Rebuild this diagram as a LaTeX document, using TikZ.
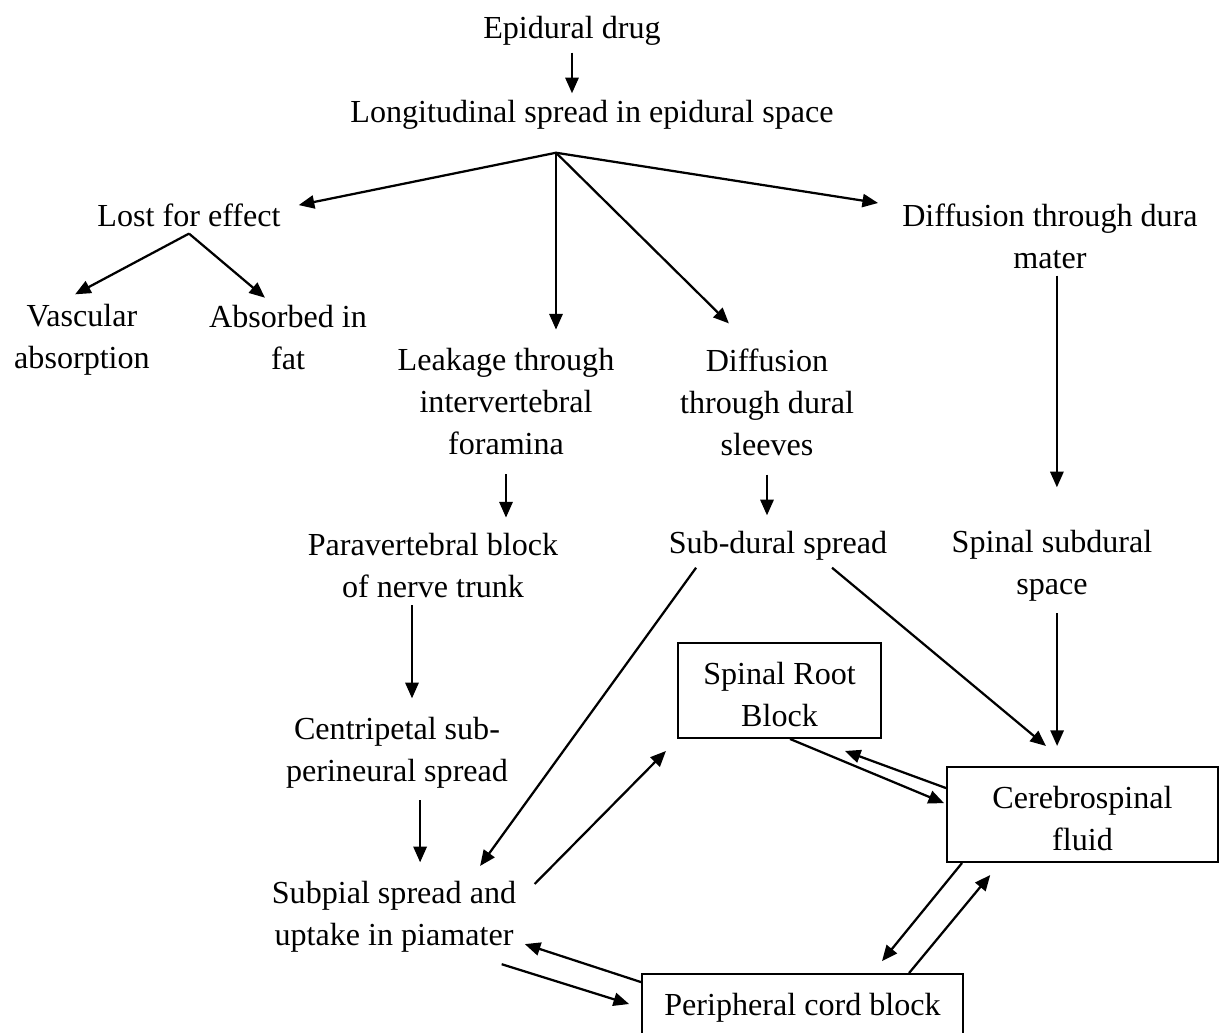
\documentclass[tikz,border=0pt]{standalone}
\usepackage{fontspec}
\setmainfont{Liberation Serif}
\usepackage{tikz}
\usetikzlibrary{arrows.meta}
\tikzstyle{es} = [-{Triangle[length=5.2pt,width=4.4pt]}]
\tikzstyle{txt} = [align=center,inner sep=2pt]
\tikzstyle{blk} = [draw,align=center,line width=0.6pt,inner sep=0pt]
\newcommand{\boxstrut}{\rule{0pt}{9.8pt}}

\begin{document}
\begin{tikzpicture}[x=0.3333pt,y=-0.3333pt,line width=0.75pt,font=\fontsize{10.7}{14}\selectfont]
			\useasboundingbox (0,0) rectangle (1224,1032);
			\clip (0,0) rectangle (1224,1032);
			\node[txt] (epi) at (572,31) {Epidural drug};
			\node[txt] (lon) at (592,115) {Longitudinal spread in epidural space};
			\node[txt] (lost) at (189,215) {Lost for effect};
			\node[txt] (dura) at (1050,236) {Diffusion through dura\\mater};
			\node[txt] (vasc) at (82,340) {Vascular\\absorption};
			\node[txt] (abs) at (288,338) {Absorbed in\\fat};
			\node[txt] (leak) at (506,402) {Leakage through\\intervertebral\\foramina};
			\node[txt] (diff) at (767,402) {Diffusion\\through dural\\sleeves};
			\node[txt] (para) at (433,566) {Paravertebral block\\of nerve trunk};
			\node[txt] (subd) at (778,546) {Sub-dural spread};
			\node[txt] (spsub) at (1052,566) {Spinal subdural\\space};
			\node[txt] (cent) at (397,753) {Centripetal sub-\\perineural spread};
			\node[txt] (subp) at (394,917) {Subpial spread and\\uptake in piamater};
			\node[blk,minimum width=67.7pt,minimum height=31.7pt] (root) at (779.5,690.5) {\boxstrut Spinal Root\\Block};
			\node[blk,minimum width=90.3pt,minimum height=31.7pt] (csf) at (1082.5,814.5) {\boxstrut Cerebrospinal\\fluid};
			\node[blk,minimum width=107pt,minimum height=20pt] (periph) at (802.5,1004) {\boxstrut Peripheral cord block};
			\draw[es] (epi.south) -- (epi.south |- lon.north);
			\path (lon.south) ++(-36,16) coordinate (fan);
			\draw[es] (fan) -- ([xshift=3.7pt,yshift=3.3pt]lost.east);
			\draw[es] (fan) -- ([xshift=-5.7pt,yshift=11pt]dura.west);
			\draw[es,shorten >=4pt] (fan) -- (fan |- leak.north);
			\draw[es] (fan) -- ([xshift=-12.7pt,yshift=6pt]diff.north);
			\draw[es] (lost.south) -- ([xshift=-2.3pt,yshift=1pt]vasc.north);
			\draw[es] (lost.south) -- ([xshift=-7.7pt,yshift=0.3pt]abs.north);
			\draw[es,shorten <=4pt,shorten >=3pt] (leak.south) -- (leak.south |- para.north);
			\draw[es,shorten <=4pt,shorten >=3pt] (diff.south) -- (diff.south |- subd.north);
			\draw[es,shorten >=12pt] ([xshift=2.3pt]dura.south) -- ([xshift=2.3pt]dura.south |- spsub.north);
			\draw[es,shorten >=4pt] ([xshift=-7pt]para.south) -- ([xshift=-7pt]para.south |- cent.north);
			\draw[es,shorten <=1.5pt,shorten >=4pt] ([xshift=7.7pt]cent.south) -- ([xshift=7.7pt]cent.south |- subp.north);
			\draw[es] ([xshift=-27.3pt]subd.south) -- ([xshift=28.7pt,yshift=2.8pt]subp.north);
			\draw[es] ([xshift=18pt]subd.south) -- ([xshift=-12.2pt,yshift=6.7pt]csf.north);
			\draw[es,shorten <=1.5pt,shorten >=6.7pt] ([xshift=1.7pt]spsub.south) -- ([xshift=1.7pt]spsub.south |- csf.north);
			\draw[es] ([xshift=3.8pt,yshift=-3.2pt]subp.north east) -- ([xshift=-3.7pt,yshift=-4pt]root.south west);
			\draw[es] ([xshift=3.5pt]root.south) -- ([xshift=-0.7pt,yshift=3.8pt]csf.west);
			\draw[es] ([yshift=8.8pt]csf.west) -- ([xshift=21.8pt,yshift=-4pt]root.south);
			\draw[es] ([xshift=5.3pt]csf.south west) -- ([xshift=26.5pt,yshift=4pt]periph.north);
			\draw[es] ([xshift=35.5pt]periph.north) -- ([xshift=14.7pt,yshift=-4pt]csf.south west);
			\draw[es] ([yshift=-3pt]periph.north west) -- ([xshift=0.5pt,yshift=5.2pt]subp.south east);
			\draw[es] ([xshift=-7.2pt,yshift=-1.5pt]subp.south east) -- ([xshift=-4pt]periph.west);
		\end{tikzpicture}
\end{document}
